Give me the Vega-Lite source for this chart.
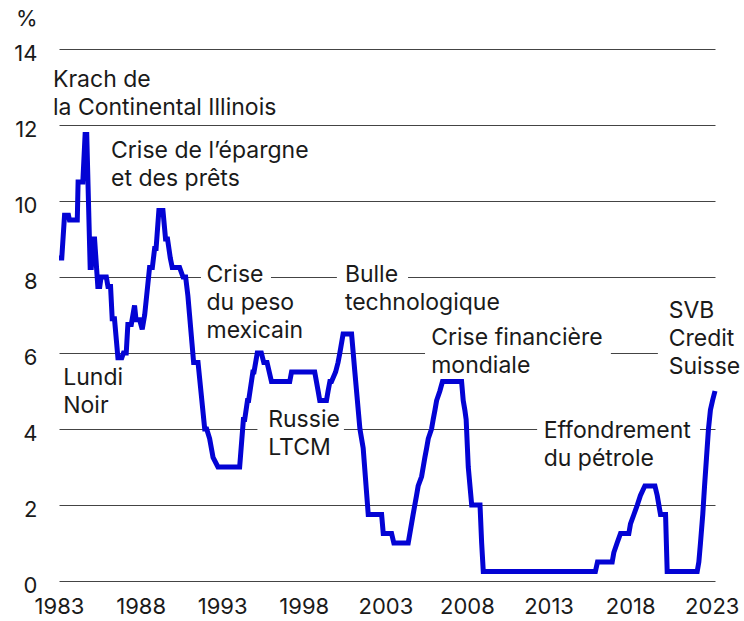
{
  "$schema": "https://vega.github.io/schema/vega-lite/v6.json",
  "width": 656,
  "height": 532,
  "autosize": {"type": "none"},
  "padding": {"left": 59, "top": 49, "right": 29, "bottom": 40},
  "background": "white",
  "config": {
    "view": {"stroke": null},
    "font": "Inter",
    "text": {"font": "Inter"}
  },
  "datasets": {
    "rate": [
      {"year": 1983.0, "rate": 8.5}, {"year": 1983.17, "rate": 8.5}, {"year": 1983.34, "rate": 9.625}, {"year": 1983.58, "rate": 9.625},
      {"year": 1983.64, "rate": 9.5}, {"year": 1984.12, "rate": 9.5}, {"year": 1984.17, "rate": 10.5}, {"year": 1984.46, "rate": 10.5},
      {"year": 1984.6, "rate": 11.75}, {"year": 1984.7, "rate": 11.75}, {"year": 1984.91, "rate": 8.25}, {"year": 1984.98, "rate": 8.25},
      {"year": 1985.1, "rate": 9.0}, {"year": 1985.18, "rate": 9.0}, {"year": 1985.38, "rate": 7.75}, {"year": 1985.5, "rate": 7.75},
      {"year": 1985.58, "rate": 8.0}, {"year": 1985.9, "rate": 8.0}, {"year": 1986.0, "rate": 7.75}, {"year": 1986.16, "rate": 7.75},
      {"year": 1986.26, "rate": 6.9}, {"year": 1986.4, "rate": 6.9}, {"year": 1986.61, "rate": 5.875}, {"year": 1986.85, "rate": 5.875},
      {"year": 1986.95, "rate": 6.0}, {"year": 1987.12, "rate": 6.0}, {"year": 1987.22, "rate": 6.75}, {"year": 1987.43, "rate": 6.75},
      {"year": 1987.63, "rate": 7.25}, {"year": 1987.72, "rate": 6.875}, {"year": 1987.94, "rate": 6.875}, {"year": 1988.1, "rate": 6.625},
      {"year": 1988.25, "rate": 7.0}, {"year": 1988.55, "rate": 8.25}, {"year": 1988.72, "rate": 8.25}, {"year": 1988.86, "rate": 8.75},
      {"year": 1988.95, "rate": 8.75}, {"year": 1989.12, "rate": 9.75}, {"year": 1989.37, "rate": 9.75}, {"year": 1989.53, "rate": 9.0},
      {"year": 1989.65, "rate": 9.0}, {"year": 1989.82, "rate": 8.5}, {"year": 1989.94, "rate": 8.25}, {"year": 1990.39, "rate": 8.25},
      {"year": 1990.6, "rate": 8.0}, {"year": 1990.76, "rate": 8.0}, {"year": 1990.9, "rate": 7.5}, {"year": 1991.0, "rate": 7.0},
      {"year": 1991.15, "rate": 6.25}, {"year": 1991.25, "rate": 5.75}, {"year": 1991.52, "rate": 5.75}, {"year": 1991.93, "rate": 4.0},
      {"year": 1992.05, "rate": 4.0}, {"year": 1992.23, "rate": 3.75}, {"year": 1992.44, "rate": 3.25}, {"year": 1992.74, "rate": 3.0},
      {"year": 1994.07, "rate": 3.0}, {"year": 1994.3, "rate": 4.25}, {"year": 1994.38, "rate": 4.25}, {"year": 1994.55, "rate": 4.75},
      {"year": 1994.62, "rate": 4.75}, {"year": 1994.88, "rate": 5.5}, {"year": 1994.95, "rate": 5.5}, {"year": 1995.15, "rate": 6.0},
      {"year": 1995.4, "rate": 6.0}, {"year": 1995.55, "rate": 5.75}, {"year": 1995.75, "rate": 5.75}, {"year": 1996.02, "rate": 5.25},
      {"year": 1997.14, "rate": 5.25}, {"year": 1997.25, "rate": 5.5}, {"year": 1998.67, "rate": 5.5}, {"year": 1998.88, "rate": 5.0},
      {"year": 1998.98, "rate": 4.75}, {"year": 1999.39, "rate": 4.75}, {"year": 1999.49, "rate": 5.0}, {"year": 1999.6, "rate": 5.25},
      {"year": 1999.7, "rate": 5.25}, {"year": 1999.95, "rate": 5.5}, {"year": 2000.1, "rate": 5.75}, {"year": 2000.21, "rate": 6.0},
      {"year": 2000.41, "rate": 6.5}, {"year": 2000.93, "rate": 6.5}, {"year": 2001.13, "rate": 5.5}, {"year": 2001.44, "rate": 4.0},
      {"year": 2001.54, "rate": 3.75}, {"year": 2001.64, "rate": 3.5}, {"year": 2001.95, "rate": 1.75}, {"year": 2002.77, "rate": 1.75},
      {"year": 2002.87, "rate": 1.25}, {"year": 2003.38, "rate": 1.25}, {"year": 2003.52, "rate": 1.0}, {"year": 2004.4, "rate": 1.0},
      {"year": 2004.5, "rate": 1.25}, {"year": 2004.7, "rate": 1.75}, {"year": 2004.91, "rate": 2.25}, {"year": 2005.01, "rate": 2.5},
      {"year": 2005.22, "rate": 2.75}, {"year": 2005.42, "rate": 3.25}, {"year": 2005.53, "rate": 3.5}, {"year": 2005.63, "rate": 3.75},
      {"year": 2005.83, "rate": 4.0}, {"year": 2005.93, "rate": 4.25}, {"year": 2006.04, "rate": 4.5}, {"year": 2006.14, "rate": 4.75},
      {"year": 2006.34, "rate": 5.0}, {"year": 2006.5, "rate": 5.25}, {"year": 2007.67, "rate": 5.25}, {"year": 2007.77, "rate": 4.75},
      {"year": 2007.87, "rate": 4.5}, {"year": 2007.95, "rate": 4.25}, {"year": 2008.08, "rate": 3.0}, {"year": 2008.29, "rate": 2.0},
      {"year": 2008.8, "rate": 2.0}, {"year": 2008.9, "rate": 1.0}, {"year": 2009.0, "rate": 0.25}, {"year": 2015.87, "rate": 0.25},
      {"year": 2016.0, "rate": 0.5}, {"year": 2016.9, "rate": 0.5}, {"year": 2017.0, "rate": 0.75}, {"year": 2017.2, "rate": 1.0},
      {"year": 2017.41, "rate": 1.25}, {"year": 2017.92, "rate": 1.25}, {"year": 2018.02, "rate": 1.5}, {"year": 2018.23, "rate": 1.75},
      {"year": 2018.44, "rate": 2.0}, {"year": 2018.63, "rate": 2.25}, {"year": 2018.9, "rate": 2.5}, {"year": 2019.52, "rate": 2.5},
      {"year": 2019.66, "rate": 2.25}, {"year": 2019.76, "rate": 2.0}, {"year": 2019.86, "rate": 1.75}, {"year": 2020.17, "rate": 1.75},
      {"year": 2020.27, "rate": 0.25}, {"year": 2022.11, "rate": 0.25}, {"year": 2022.21, "rate": 0.5}, {"year": 2022.31, "rate": 1.0},
      {"year": 2022.45, "rate": 1.75}, {"year": 2022.56, "rate": 2.5}, {"year": 2022.68, "rate": 3.25}, {"year": 2022.8, "rate": 4.0},
      {"year": 2022.92, "rate": 4.5}, {"year": 2023.05, "rate": 4.75}, {"year": 2023.2, "rate": 5.0}
    ],
    "gaps": [
      {"x1": 1991.70, "x2": 1995.99, "y1": 7.9, "y2": 8.1},
      {"x1": 2000.03, "x2": 2004.39, "y1": 7.9, "y2": 8.1},
      {"x1": 2005.43, "x2": 2016.82, "y1": 5.9, "y2": 6.1},
      {"x1": 2019.70, "x2": 2023.6, "y1": 5.9, "y2": 6.1},
      {"x1": 1995.16, "x2": 2000.46, "y1": 3.9, "y2": 4.1},
      {"x1": 2012.30, "x2": 2022.28, "y1": 3.9, "y2": 4.1}
    ],
    "labels": [
      {"year": 1982.63, "rate": 13.0, "label": "Krach de\nla Continental Illinois"},
      {"year": 1986.19, "rate": 11.13, "label": "Crise de l’épargne\net des prêts"},
      {"year": 1992.04, "rate": 7.876, "label": "Crise\ndu peso\nmexicain"},
      {"year": 2000.52, "rate": 7.876, "label": "Bulle\ntechnologique"},
      {"year": 1983.26, "rate": 5.158, "label": "Lundi\nNoir"},
      {"year": 1995.82, "rate": 4.06, "label": "Russie\nLTCM"},
      {"year": 2005.81, "rate": 6.21, "label": "Crise financière\nmondiale"},
      {"year": 2020.36, "rate": 6.91, "label": "SVB\nCredit\nSuisse"},
      {"year": 2012.70, "rate": 3.755, "label": "Effondrement\ndu pétrole"}
    ]
  },
  "layer": [
    {
      "data": {"name": "gaps"},
      "mark": {"type": "rect", "color": "white", "clip": false},
      "encoding": {
        "x": {"field": "x1", "type": "quantitative", "scale": {"domain": [1983, 2023.2], "nice": false, "zero": false},
          "axis": {"values": [1983, 1988, 1993, 1998, 2003, 2008, 2013, 2018, 2023], "format": "d", "domain": false, "ticks": false, "grid": false,
            "labelFont": "Inter", "labelFontSize": 22, "labelColor": "#1a1a1a", "labelPadding": 15, "labelFlush": false, "title": null}},
        "x2": {"field": "x2"},
        "y": {"field": "y1", "type": "quantitative", "scale": {"domain": [0, 14], "nice": false},
          "axis": {"values": [0, 2, 4, 6, 8, 10, 12, 14], "domain": false, "ticks": false, "grid": true, "gridColor": "#444444", "gridWidth": 1,
            "labelFont": "Inter", "labelFontSize": 22, "labelColor": "#1a1a1a", "labelPadding": 22, "labelBaseline": "middle", "labelOffset": 4,
            "title": "%", "titleAngle": 0, "titleAlign": "right", "titleBaseline": "middle", "titleX": -22, "titleY": -31,
            "titleFont": "Inter", "titleFontSize": 22, "titleFontWeight": "normal", "titleColor": "#1a1a1a"}},
        "y2": {"field": "y2"}
      }
    },
    {
      "data": {"name": "rate"},
      "mark": {"type": "line", "color": "#0303d4", "strokeWidth": 5, "clip": false},
      "encoding": {
        "x": {"field": "year", "type": "quantitative"},
        "y": {"field": "rate", "type": "quantitative"}
      }
    },
    {
      "data": {"name": "labels"},
      "mark": {"type": "text", "align": "left", "baseline": "alphabetic", "fontSize": 23, "lineHeight": 28, "lineBreak": "\n", "font": "Inter", "color": "#1a1a1a"},
      "encoding": {
        "x": {"field": "year", "type": "quantitative"},
        "y": {"field": "rate", "type": "quantitative"},
        "text": {"field": "label"}
      }
    }
  ]
}
